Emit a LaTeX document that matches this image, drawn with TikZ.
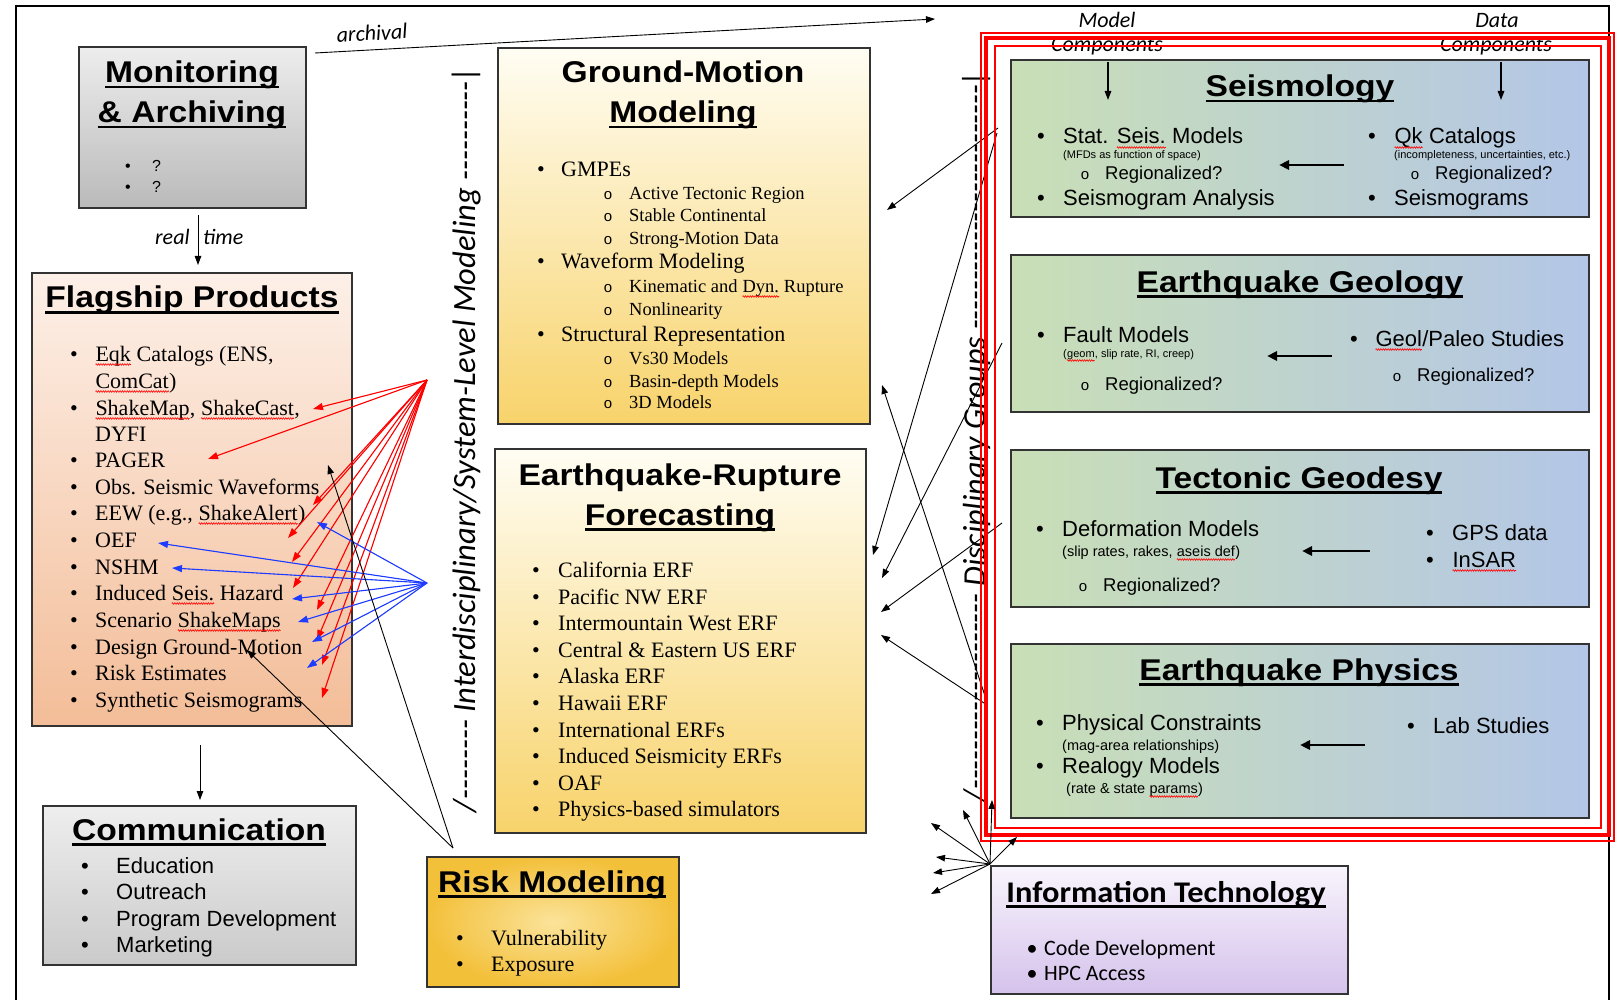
\documentclass[tikz,border=0pt]{standalone}
\usepackage{fontspec}
\setmainfont{Liberation Serif}
\newfontfamily\fhv{Liberation Sans}
\newfontfamily\fhvt{Liberation Sans}[FakeStretch=1.12]
\newfontfamily\fcal{Carlito}
\newfontfamily\fcalt{Carlito}[FakeStretch=1.08]
\newfontfamily\fmono{Liberation Mono}
\usetikzlibrary{arrows.meta,decorations.pathmorphing}
\definecolor{arred}{HTML}{FF0000}
\definecolor{arblue}{HTML}{1E3CFF}
\definecolor{monT}{HTML}{EDEDED}\definecolor{monB}{HTML}{BABABA}
\definecolor{comT}{HTML}{EEEEEE}\definecolor{comB}{HTML}{CACACA}
\definecolor{flT}{HTML}{FDF0E8}\definecolor{flB}{HTML}{F3BD98}
\definecolor{gmT}{HTML}{FFFDF3}\definecolor{gmB}{HTML}{F8D36B}
\definecolor{rkI}{HTML}{FBE39A}\definecolor{rkO}{HTML}{F3C03A}
\definecolor{dL}{HTML}{C9DFB6}\definecolor{dR}{HTML}{B3C6E7}
\definecolor{itT}{HTML}{F8F4FC}\definecolor{itB}{HTML}{D5C2EC}
\newcounter{nc}
\newcommand\BI[5]{\stepcounter{nc}%
  \node[#1,anchor=base] (bu\arabic{nc}) at (#2,#4) {\textbullet};%
  \node[#1,anchor=base west] (it\arabic{nc}) at (#3,#4) {#5};}
\newcommand\SI[5]{\stepcounter{nc}%
  \node[inner sep=0pt,anchor=base,font=\fhv\fontsize{15}{17}\selectfont] (so\arabic{nc}) at (#2,#4) {o};%
  \node[#1,anchor=base west] (it\arabic{nc}) at (#3,#4) {#5};}
\newcommand\TL[4]{\stepcounter{nc}\node[#1,anchor=base west] (tl\arabic{nc}) at (#2,#3) {#4};}
\newcommand\ulx[1]{\setbox0\hbox{#1}\rlap{\rule[-5.5pt]{\wd0}{2.2pt}}\box0}
\newcommand\sqg[1]{\tikz[baseline=(sqw.base)]{\node[inner sep=0pt,outer sep=0pt,anchor=base](sqw){#1};\draw[arred,line width=0.6pt,decorate,decoration={zigzag,segment length=2.4pt,amplitude=0.8pt}]([yshift=-3.5pt]sqw.base west)--([yshift=-3.5pt]sqw.base east);}}
\newcommand\hyph[1]{\foreach \k in {1,...,#1}{-}}
\begin{document}
\begin{tikzpicture}[x=1pt,y=-1pt,
  bx/.style={draw=black!80,line width=1.2pt,anchor=north west,inner sep=0pt,outer sep=0pt},
  ttl/.style={inner sep=0pt,anchor=base,font=\fhvt\bfseries\fontsize{30}{34}\selectfont},
  ser/.style={inner sep=0pt,font=\fontsize{22}{26}\selectfont},
  sers/.style={inner sep=0pt,font=\fontsize{18.5}{22}\selectfont},
  san/.style={inner sep=0pt,font=\fhv\fontsize{22}{26}\selectfont},
  sanr/.style={inner sep=0pt,font=\fhv\fontsize{18.5}{22}\selectfont},
  sanq/.style={inner sep=0pt,font=\fhv\fontsize{16}{19}\selectfont},
  sanxs/.style={inner sep=0pt,font=\fhv\fontsize{11}{13}\selectfont},
  sansm/.style={inner sep=0pt,font=\fhv\fontsize{14.5}{17}\selectfont},
  calf/.style={inner sep=0pt,font=\fcal\fontsize{22}{26}\selectfont},
  calit/.style={inner sep=0pt,font=\fcal\itshape\fontsize{22}{26}\selectfont},
  blkar/.style={-{Triangle[length=9pt,width=6.5pt]},line width=0.9pt},
  redar/.style={-{Triangle[length=10pt,width=7pt]},line width=1.1pt,draw=arred,fill=arred},
  bluar/.style={-{Triangle[length=10pt,width=7pt]},line width=1.1pt,draw=arblue,fill=arblue},
  thkar/.style={-{Triangle[length=10pt,width=9pt]},line width=2.6pt},
]
\useasboundingbox (0,0) rectangle (1619,1000);
\fill[white] (0,0) rectangle (1619,1000);
% outer frame
\draw[line width=1.8pt] (16,1000) -- (16,6) -- (1609,6) -- (1609,1000);

% ---------- boxes ----------
\node[bx,top color=monT,bottom color=monB,minimum width=227pt,minimum height=161pt] (mon) at (79,47) {};
\node[bx,top color=flT,bottom color=flB,minimum width=320pt,minimum height=453pt] (flag) at (32,273) {};
\node[bx,top color=comT,bottom color=comB,minimum width=313pt,minimum height=159pt] (comm) at (43,806) {};
\node[bx,top color=gmT,bottom color=gmB,minimum width=372pt,minimum height=376pt] (gm) at (498,48) {};
\node[bx,top color=gmT,bottom color=gmB,minimum width=371pt,minimum height=384pt] (erf) at (495,449) {};
\node[bx,inner color=rkI,outer color=rkO,minimum width=252pt,minimum height=130pt] (risk) at (427,857) {};
\node[bx,left color=dL,right color=dR,minimum width=578pt,minimum height=157pt] (seis) at (1011,60) {};
\node[bx,left color=dL,right color=dR,minimum width=578pt,minimum height=157pt] (geol) at (1011,255) {};
\node[bx,left color=dL,right color=dR,minimum width=578pt,minimum height=157pt] (geod) at (1011,450) {};
\node[bx,left color=dL,right color=dR,minimum width=578pt,minimum height=174pt] (phys) at (1011,644) {};
\node[bx,top color=itT,bottom color=itB,minimum width=357pt,minimum height=128pt] (it) at (991,866) {};

% ---------- titles ----------
\node[ttl] (monT1) at (192,83) {\ulx{Monitoring}};
\node[ttl] (monT2) at (192,123) {\ulx{\& Archiving}};
\node[ttl] (flagT) at (192,308) {\ulx{Flagship Products}};
\node[ttl] (commT) at (199,840) {\ulx{Communication}};
\node[ttl] (gmT1) at (683,83) {Ground-Motion};
\node[ttl] (gmT2) at (683,123) {\ulx{Modeling}};
\node[ttl] (erfT1) at (680,485) {Earthquake-Rupture};
\node[ttl] (erfT2) at (680,525) {\ulx{Forecasting}};
\node[ttl] (riskT) at (552,892) {\ulx{Risk Modeling}};
\node[ttl] (seisT) at (1300,97) {\ulx{Seismology}};
\node[ttl] (geolT) at (1300,292) {\ulx{Earthquake Geology}};
\node[ttl] (geodT) at (1299,488) {\ulx{Tectonic Geodesy}};
\node[ttl] (physT) at (1299,680) {\ulx{Earthquake Physics}};
\node[ttl,font=\fcalt\bfseries\fontsize{30}{34}\selectfont] (itT) at (1166,902) {\ulx{Information Technology}};

% ---------- monitoring ----------
\BI{sanq}{128}{152}{172}{?}
\BI{sanq}{128}{152}{193}{?}

% ---------- flagship ----------
\BI{ser}{74}{95}{361}{\sqg{Eqk} Catalogs (ENS,}
\TL{ser}{95}{388}{\sqg{ComCat})}
\BI{ser}{74}{95}{415}{\sqg{ShakeMap}, \sqg{ShakeCast},}
\TL{ser}{95}{441}{DYFI}
\BI{ser}{74}{95}{467}{PAGER}
\BI{ser}{74}{95}{494}{Obs. Seismic Waveforms}
\BI{ser}{74}{95}{520}{EEW (e.g., \sqg{ShakeAlert})}
\BI{ser}{74}{95}{547}{OEF}
\BI{ser}{74}{95}{574}{NSHM}
\BI{ser}{74}{95}{600}{Induced \sqg{Seis.} Hazard}
\BI{ser}{74}{95}{627}{Scenario \sqg{ShakeMaps}}
\BI{ser}{74}{95}{654}{Design Ground-Motion}
\BI{ser}{74}{95}{680}{Risk Estimates}
\BI{ser}{74}{95}{707}{Synthetic Seismograms}

% ---------- communication ----------
\BI{san}{85}{116}{873}{Education}
\BI{san}{85}{116}{899}{Outreach}
\BI{san}{85}{116}{926}{Program Development}
\BI{san}{85}{116}{952}{Marketing}

% ---------- ground motion ----------
\BI{ser}{541}{561}{177}{GMPEs}
\SI{sers}{608}{629}{200}{Active Tectonic Region}
\SI{sers}{608}{629}{222}{Stable Continental}
\SI{sers}{608}{629}{245}{Strong-Motion Data}
\BI{ser}{541}{561}{269}{Waveform Modeling}
\SI{sers}{608}{629}{293}{Kinematic and \sqg{Dyn.} Rupture}
\SI{sers}{608}{629}{316}{Nonlinearity}
\BI{ser}{541}{561}{341}{Structural Representation}
\SI{sers}{608}{629}{364}{Vs30 Models}
\SI{sers}{608}{629}{387}{Basin-depth Models}
\SI{sers}{608}{629}{408}{3D Models}

% ---------- ERF ----------
\BI{ser}{536}{558}{577}{California ERF}
\BI{ser}{536}{558}{604}{Pacific NW ERF}
\BI{ser}{536}{558}{630}{Intermountain West ERF}
\BI{ser}{536}{558}{657}{Central \& Eastern US ERF}
\BI{ser}{536}{558}{683}{Alaska ERF}
\BI{ser}{536}{558}{710}{Hawaii ERF}
\BI{ser}{536}{558}{737}{International ERFs}
\BI{ser}{536}{558}{763}{Induced Seismicity ERFs}
\BI{ser}{536}{558}{790}{OAF}
\BI{ser}{536}{558}{816}{Physics-based simulators}

% ---------- risk ----------
\BI{ser}{460}{491}{945}{Vulnerability}
\BI{ser}{460}{491}{971}{Exposure}

% ---------- seismology ----------
\BI{san}{1041}{1063}{144}{Stat. \sqg{Seis.} Models}
\TL{sanxs}{1063}{159}{(MFDs as function of space)}
\SI{sanr}{1085}{1105}{180}{Regionalized?}
\BI{san}{1041}{1063}{206}{Seismogram Analysis}
\BI{san}{1372}{1394}{144}{\sqg{Qk} Catalogs}
\TL{sanxs}{1394}{159}{(incompleteness, uncertainties, etc.)}
\SI{sanr}{1415}{1435}{180}{Regionalized?}
\BI{san}{1372}{1394}{206}{Seismograms}

% ---------- geology ----------
\BI{san}{1041}{1063}{342}{Fault Models}
\TL{sanxs}{1063}{357}{(\sqg{geom}, slip rate, RI, creep)}
\SI{sanr}{1085}{1105}{390}{Regionalized?}
\BI{san}{1354}{1375}{346}{\sqg{Geol}/Paleo Studies}
\SI{sanr}{1397}{1417}{381}{Regionalized?}

% ---------- geodesy ----------
\BI{san}{1040}{1062}{536}{Deformation Models}
\TL{sansm}{1062}{556}{(slip rates, rakes, \sqg{aseis def})}
\SI{sanr}{1083}{1103}{591}{Regionalized?}
\BI{san}{1430}{1452}{540}{GPS data}
\BI{san}{1430}{1452}{567}{\sqg{InSAR}}

% ---------- physics ----------
\BI{san}{1040}{1062}{730}{Physical Constraints}
\TL{sansm}{1062}{750}{(mag-area relationships)}
\BI{san}{1040}{1062}{773}{Realogy Models}
\TL{sansm}{1066}{793}{(rate \& state \sqg{params})}
\BI{san}{1411}{1433}{733}{Lab Studies}

% ---------- IT ----------
\BI{calf}{1032}{1044}{955}{Code Development}
\BI{calf}{1032}{1044}{980}{HPC Access}

% ---------- labels ----------
\node[calit,anchor=base] (lbMod1) at (1107,28) {Model};
\node[calit,anchor=base] (lbMod2) at (1107,52) {Components};
\node[calit,anchor=base] (lbDat1) at (1497,28) {Data};
\node[calit,anchor=base] (lbDat2) at (1496,52) {Components};
\node[calit,rotate=3.1] (lbArch) at (372,33) {archival};
\node[calit,anchor=base west] (lbReal) at (155,245) {real};
\node[calit,anchor=base west] (lbTime) at (203,245) {time};
\node[rotate=90,anchor=base,inner sep=0pt,font=\fcal\itshape\fontsize{32.5}{37}\selectfont] (idl) at (475,439) {/\hyph{8} Interdisciplinary/System-Level Modeling \hyph{10}|};
\node[rotate=90,anchor=base,inner sep=0pt,font=\fcal\itshape\fontsize{32}{37}\selectfont] (dgl) at (985,436) {/\hyph{20} Disciplinary Groups \hyph{25}|};

% ---------- coordinates ----------
\coordinate (arcS) at (315,53);  \coordinate (arcE) at (935,19);
\coordinate (rtS) at (198,215);  \coordinate (rtE) at (198,265);
\coordinate (fcS) at (200,745);  \coordinate (fcE) at (200,800);
\coordinate (mcS) at (1108,62);  \coordinate (mcE) at (1108,100);
\coordinate (dcS) at (1501,62);  \coordinate (dcE) at (1501,100);
\coordinate (redhub) at (427,380);
\coordinate (bluhub) at (427,583);
\coordinate (rkO) at (453,848);
\coordinate (sA) at (998,128);  \coordinate (gmA) at (887,210);
\coordinate (sB) at (997,133);  \coordinate (erA) at (873,555);
\coordinate (gB) at (1002,343); \coordinate (erB) at (882,578);
\coordinate (tB) at (1002,523); \coordinate (erC) at (881,612);
\coordinate (pB) at (987,705);  \coordinate (erD) at (881,635);
\coordinate (pA) at (986,699);  \coordinate (gmB) at (882,385);
\coordinate (itO) at (990,864);

% ---------- simple arrows ----------
\draw[blkar] (arcS) -- (arcE);
\draw[blkar] (rtS) -- (rtE);
\draw[blkar] (fcS) -- (fcE);
\draw[blkar,line width=1.4pt] (mcS) -- (mcE);
\draw[blkar,line width=1.4pt] (dcS) -- (dcE);

% thick left arrows
\draw[thkar] (1344,165) coordinate (sq1) -- (1279,165) coordinate (sq2);
\draw[thkar] (1332,356) coordinate (gq1) -- (1267,356) coordinate (gq2);
\draw[thkar] (1370,551) coordinate (tq1) -- (1302,551) coordinate (tq2);
\draw[thkar] (1365,745) coordinate (pq1) -- (1300,745) coordinate (pq2);

% red arrows
\foreach \p in {(313,409),(208,459),(313,505),(288,538),(292,562),(293,588),(317,610),(317,640),(322,665),(322,698)}
  \draw[redar] (redhub) -- \p;
% blue arrows
\foreach \p in {(317,522),(158,543),(172,568),(292,599),(298,622),(312,642),(307,668)}
  \draw[bluar] (bluhub) -- \p;
% risk arrows
\draw[blkar] (rkO) -- (247,650) coordinate (k1);
\draw[blkar] (rkO) -- (328,465) coordinate (k2);

% disciplinary arrows
\draw[blkar] (sA) -- (gmA);
\draw[blkar] (sB) -- (erA);
\draw[blkar] (gB) -- (erB);
\draw[blkar] (tB) -- (erC);
\draw[blkar] (pB) -- (erD);
\draw[blkar] (pA) -- (gmB);

% red frame
\draw[arred,line width=1.3pt] (981,33) rectangle (1614,841);
\draw[arred,line width=3.2pt] (986,38) rectangle (1609,835);
\draw[arred,line width=2.2pt] (995,46) rectangle (1601,828);

% IT arrows
\foreach \p in {(931,823),(963,810),(992,800),(1017,837),(936,857),(933,873),(931,894)}
  \draw[blkar] (itO) -- \p;
\end{tikzpicture}
\end{document}
